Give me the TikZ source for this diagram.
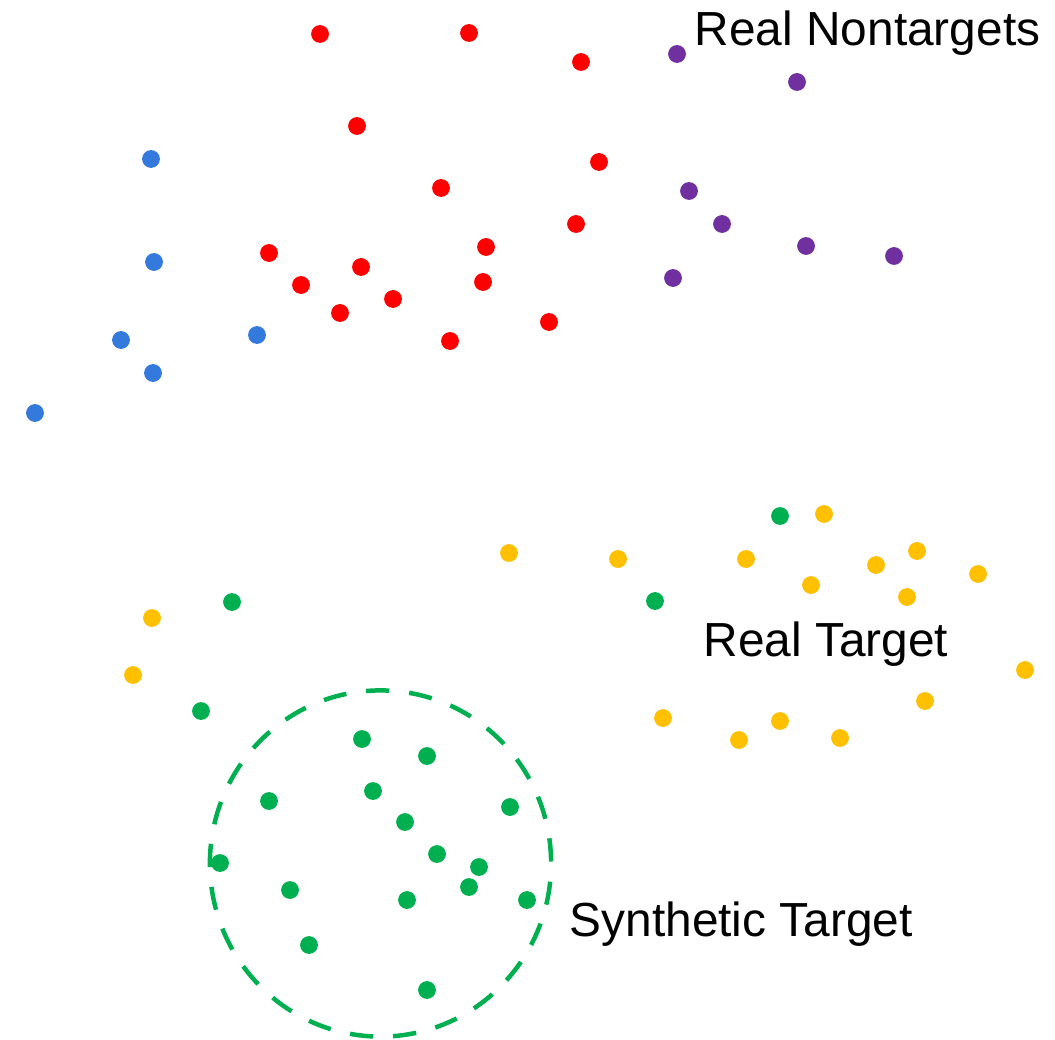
\documentclass[tikz,border=0pt]{standalone}
\usepackage{fontspec}
\setmainfont{Liberation Sans}
\usepackage{tikz}
\usetikzlibrary{shapes}
\definecolor{nontargetred}{HTML}{FF0000}
\definecolor{nontargetpurple}{HTML}{7030A0}
\definecolor{nontargetblue}{HTML}{3479DC}
\definecolor{targetyellow}{HTML}{FFC000}
\definecolor{targetgreen}{HTML}{00B050}
\begin{document}
\begin{tikzpicture}[x=0.01cm,y=-0.01cm,
		pt/.style={circle,inner sep=0pt,minimum size=0.178cm},
		redpt/.style={pt,fill=nontargetred},
		purplept/.style={pt,fill=nontargetpurple},
		bluept/.style={pt,fill=nontargetblue},
		yellowpt/.style={pt,fill=targetyellow},
		greenpt/.style={pt,fill=targetgreen},
		lbl/.style={anchor=base west,inner sep=0pt,font=\fontsize{13.6}{16}\selectfont}]
		\useasboundingbox (0,0) rectangle (1055,1040);
		\node[redpt] (r1) at (320,34) {};
		\node[redpt] (r2) at (469,33) {};
		\node[redpt] (r3) at (581,62) {};
		\node[redpt] (r4) at (357,126) {};
		\node[redpt] (r5) at (599,162) {};
		\node[redpt] (r6) at (441,188) {};
		\node[redpt] (r7) at (576,224) {};
		\node[redpt] (r8) at (486,247) {};
		\node[redpt] (r9) at (269,253) {};
		\node[redpt] (r10) at (361,267) {};
		\node[redpt] (r11) at (301,285) {};
		\node[redpt] (r12) at (483,282) {};
		\node[redpt] (r13) at (393,299) {};
		\node[redpt] (r14) at (340,313) {};
		\node[redpt] (r15) at (450,341) {};
		\node[redpt] (r16) at (549,322) {};
		\node[purplept] (p1) at (677,54) {};
		\node[purplept] (p2) at (797,82) {};
		\node[purplept] (p3) at (689,191) {};
		\node[purplept] (p4) at (722,224) {};
		\node[purplept] (p5) at (806,246) {};
		\node[purplept] (p6) at (894,256) {};
		\node[purplept] (p7) at (673,278) {};
		\node[bluept] (b1) at (151,159) {};
		\node[bluept] (b2) at (154,262) {};
		\node[bluept] (b3) at (121,340) {};
		\node[bluept] (b4) at (257,335) {};
		\node[bluept] (b5) at (153,373) {};
		\node[bluept] (b6) at (35,413) {};
		\node[yellowpt] (y1) at (824,514) {};
		\node[yellowpt] (y2) at (509,553) {};
		\node[yellowpt] (y3) at (618,559) {};
		\node[yellowpt] (y4) at (746,559) {};
		\node[yellowpt] (y5) at (917,551) {};
		\node[yellowpt] (y6) at (876,565) {};
		\node[yellowpt] (y7) at (811,585) {};
		\node[yellowpt] (y8) at (978,574) {};
		\node[yellowpt] (y9) at (907,597) {};
		\node[yellowpt] (y10) at (152,618) {};
		\node[yellowpt] (y11) at (133,675) {};
		\node[yellowpt] (y12) at (1025,670) {};
		\node[yellowpt] (y13) at (925,701) {};
		\node[yellowpt] (y14) at (663,718) {};
		\node[yellowpt] (y15) at (780,721) {};
		\node[yellowpt] (y16) at (739,740) {};
		\node[yellowpt] (y17) at (840,738) {};
		\node[greenpt] (g1) at (780,516) {};
		\node[greenpt] (g2) at (655,601) {};
		\node[greenpt] (g3) at (232,602) {};
		\node[greenpt] (g4) at (201,711) {};
		\node[greenpt] (g5) at (362,739) {};
		\node[greenpt] (g6) at (427,756) {};
		\node[greenpt] (g7) at (269,801) {};
		\node[greenpt] (g8) at (373,791) {};
		\node[greenpt] (g9) at (510,807) {};
		\node[greenpt] (g10) at (405,822) {};
		\node[greenpt] (g11) at (437,854) {};
		\node[greenpt] (g12) at (220,863) {};
		\node[greenpt] (g13) at (479,867) {};
		\node[greenpt] (g14) at (469,887) {};
		\node[greenpt] (g15) at (290,890) {};
		\node[greenpt] (g16) at (407,900) {};
		\node[greenpt] (g17) at (527,900) {};
		\node[greenpt] (g18) at (309,945) {};
		\node[greenpt] (g19) at (427,990) {};
		\node[ellipse,draw=targetgreen,line width=0.045cm,dash pattern=on 0.233cm off 0.1986cm,dash phase=0.4116cm,inner sep=0pt,minimum width=3.41cm,minimum height=3.46cm] (synth) at (380.5,863.5) {};
		\node[lbl] (nontargets) at (694,46) {Real Nontargets};
		\node[lbl] (realtarget) at (703,656) {Real Target};
		\node[lbl] (synthtarget) at (569,936) {Synthetic Target};
		\end{tikzpicture}
\end{document}
